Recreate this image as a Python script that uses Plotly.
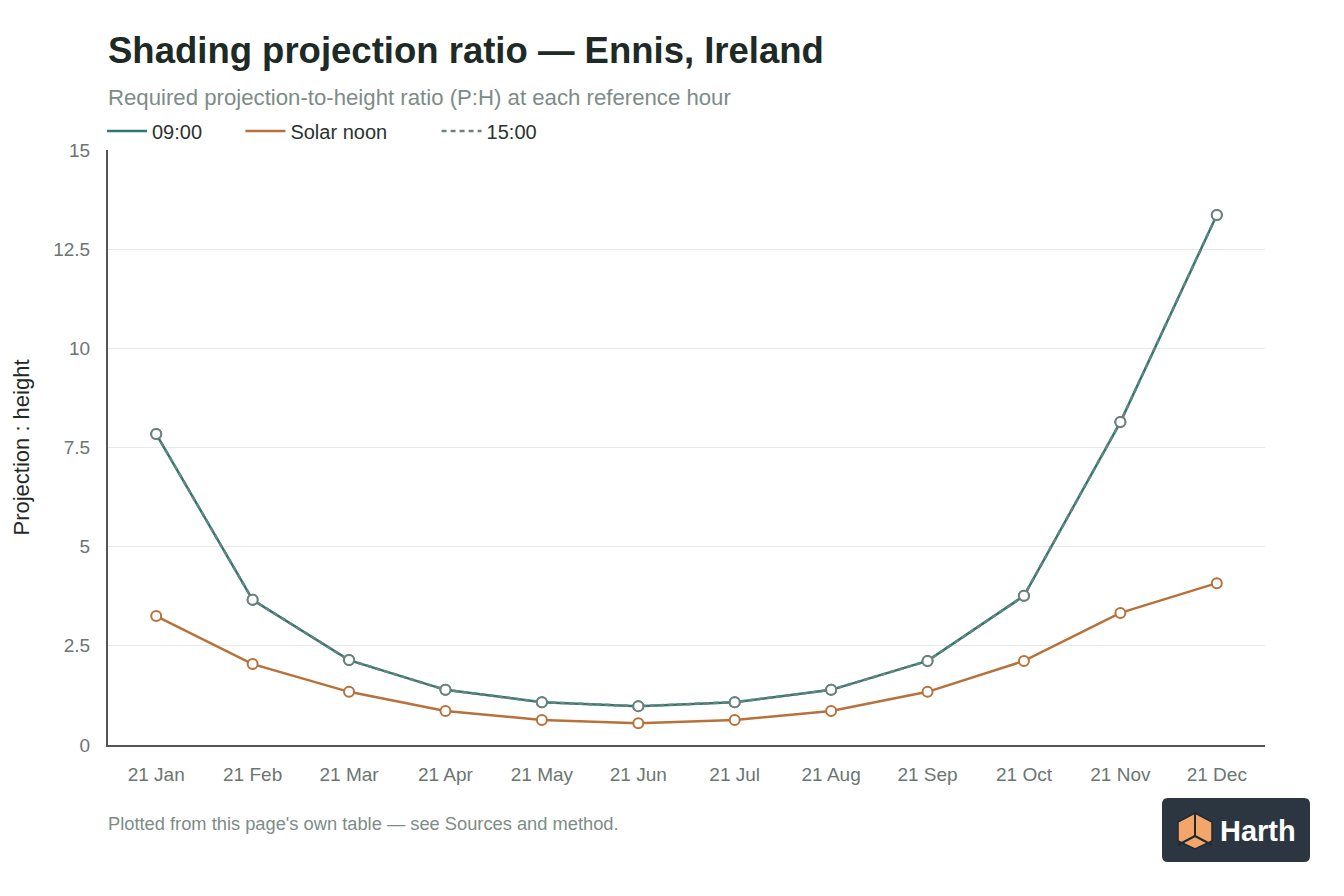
import plotly.graph_objects as go

months = ["21 Jan", "21 Feb", "21 Mar", "21 Apr", "21 May", "21 Jun",
          "21 Jul", "21 Aug", "21 Sep", "21 Oct", "21 Nov", "21 Dec"]
ratio_0900 = [7.84, 3.66, 2.14, 1.39, 1.08, 0.98, 1.08, 1.39, 2.12, 3.76, 8.14, 13.36]
ratio_noon = [3.25, 2.04, 1.34, 0.86, 0.63, 0.55, 0.63, 0.86, 1.34, 2.12, 3.33, 4.08]
ratio_1500 = [7.84, 3.66, 2.14, 1.39, 1.08, 0.98, 1.08, 1.39, 2.12, 3.76, 8.14, 13.36]
y_ticks = [0, 2.5, 5, 7.5, 10, 12.5, 15]
y_labels = ["0", "2.5", "5", "7.5", "10", "12.5", "15"]

FONT = "Liberation Sans"
W, H = 1344, 896
OFF = 8  # page body margin
L, R, T, B = 100, 87, 142, 159


# screen pixel -> paper helpers (for titles and the logo badge)
def px(x):
    return (x - OFF - L) / (W - L - R)


def py(y):
    return (H - B - (y - OFF)) / (H - T - B)


fig = go.Figure()

series = [
    ("09:00", ratio_0900, "#2c7a74", "solid", "\u00a0" * 6),
    ("Solar noon", ratio_noon, "#b8713a", "solid", "\u00a0" * 8),
    ("15:00", ratio_1500, "#6d827c", "5px,4px", ""),
]
for name, vals, col, dash, pad in series:
    fig.add_trace(go.Scatter(
        x=months, y=vals, name=name, mode="lines+markers", showlegend=False,
        line=dict(color=col, width=2.5, dash=dash),
        marker=dict(size=10, color="white", line=dict(color=col, width=2)),
    ))
# legend entries (lines only)
for name, vals, col, dash, pad in series:
    fig.add_trace(go.Scatter(
        x=[None], y=[None], name=name + pad, mode="lines",
        line=dict(color=col, width=2.5, dash=dash),
    ))

# logo badge (rounded rect)
x0, x1, y0, y1, r = 1162, 1310, 798, 862, 6
path = (f"M {px(x0 + r)},{py(y0)} L {px(x1 - r)},{py(y0)} "
        f"Q {px(x1)},{py(y0)} {px(x1)},{py(y0 + r)} L {px(x1)},{py(y1 - r)} "
        f"Q {px(x1)},{py(y1)} {px(x1 - r)},{py(y1)} L {px(x0 + r)},{py(y1)} "
        f"Q {px(x0)},{py(y1)} {px(x0)},{py(y1 - r)} L {px(x0)},{py(y0 + r)} "
        f"Q {px(x0)},{py(y0)} {px(x0 + r)},{py(y0)} Z")
shapes = [dict(type="path", xref="paper", yref="paper", path=path,
               fillcolor="#2c3640", line=dict(width=0), layer="above")]
# cube icon
cx = 1195
hexpts = [(cx, 813), (cx + 17, 822), (cx + 17, 841), (cx, 849), (cx - 17, 841), (cx - 17, 822)]
hpath = "M " + " L ".join(f"{px(a)},{py(b)}" for a, b in hexpts) + " Z"
shapes.append(dict(type="path", xref="paper", yref="paper", path=hpath,
                   fillcolor="#f4a56a", line=dict(color="#1f2a30", width=1.5), layer="above"))
for a, b in [((cx, 813), (cx, 836)), ((cx, 836), (cx - 17, 845)), ((cx, 836), (cx + 17, 845))]:
    shapes.append(dict(type="line", xref="paper", yref="paper",
                       x0=px(a[0]), y0=py(a[1]), x1=px(b[0]), y1=py(b[1]),
                       line=dict(color="#1f2a30", width=2), layer="above"))

fig.update_layout(
    width=W, height=H,
    margin=dict(l=L, r=R, t=T, b=B),
    paper_bgcolor="white", plot_bgcolor="white",
    font=dict(family=FONT, color="#6b7672", size=19),
    showlegend=True,
    legend=dict(orientation="h", x=px(102), xanchor="left", y=py(131), yanchor="middle",
                font=dict(size=20, color="#2a3330"), itemwidth=40,
                bgcolor="rgba(0,0,0,0)"),
    xaxis=dict(range=[-0.5, 11.5], showgrid=False, showline=True, linecolor="#555555", linewidth=2,
               ticks="outside", ticklen=11, tickcolor="rgba(0,0,0,0)",
               tickfont=dict(size=19, color="#6b7672"), fixedrange=True),
    yaxis=dict(range=[0, 15], tickvals=y_ticks, ticktext=y_labels,
               showgrid=True, gridcolor="#e8eaea", gridwidth=1,
               showline=True, linecolor="#555555", linewidth=2, zeroline=False,
               ticks="outside", ticklen=12, tickcolor="rgba(0,0,0,0)",
               tickfont=dict(size=19, color="#6b7672"),
               title=dict(text="Projection : height", font=dict(size=22, color="#1f2a26"), standoff=18)),
    shapes=shapes,
    annotations=[
        dict(text="<b>Shading projection ratio — Ennis, Ireland</b>", xref="paper", yref="paper",
             x=px(106), y=py(51), xanchor="left", yanchor="middle", showarrow=False,
             font=dict(size=36.5, color="#1d2a26", family=FONT)),
        dict(text="Required projection-to-height ratio (P:H) at each reference hour",
             xref="paper", yref="paper", x=px(106), y=py(97), xanchor="left", yanchor="middle",
             showarrow=False, font=dict(size=22.2, color="#7d8c87", family=FONT)),
        dict(text="Plotted from this page's own table — see Sources and method.",
             xref="paper", yref="paper", x=px(106), y=py(823), xanchor="left", yanchor="middle",
             showarrow=False, font=dict(size=18.3, color="#7d8c87", family=FONT)),
        dict(text="<b>Harth</b>", xref="paper", yref="paper", x=px(1258), y=py(831),
             xanchor="center", yanchor="middle", showarrow=False,
             font=dict(size=29, color="white", family=FONT)),
    ],
)

fig.write_html("out.html")
